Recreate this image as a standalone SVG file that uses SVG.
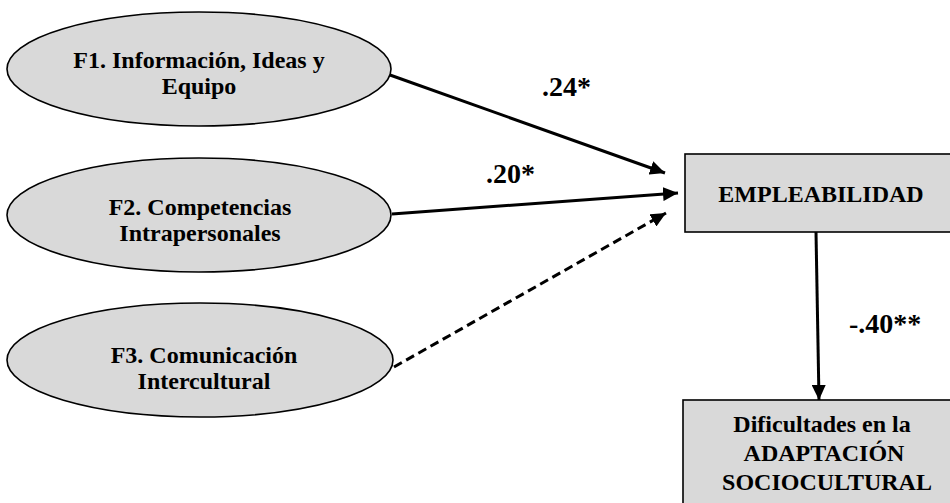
<svg xmlns="http://www.w3.org/2000/svg" width="950" height="503" viewBox="0 0 950 503">
<style>
.node{fill:#d9d9d9;stroke:#000;stroke-width:1.6}
.t{font-family:"Liberation Serif","Times New Roman",serif;font-weight:bold;font-size:24px;fill:#000;text-anchor:middle}
.lbl{font-family:"Liberation Serif","Times New Roman",serif;font-weight:bold;font-size:28px;fill:#000}
.c{stroke:#000;stroke-width:3;fill:none}
.dash{stroke-dasharray:9 5}
</style>
<defs>
<marker id="ah" markerUnits="userSpaceOnUse" markerWidth="16" markerHeight="14" refX="15" refY="7" orient="auto">
<path d="M0,0 L15,7 L0,14 Z" fill="#000"/>
</marker>
</defs>
<rect width="950" height="503" fill="#fff"/>
<g id="connectors">
<line class="c" x1="390" y1="75" x2="665" y2="173" marker-end="url(#ah)"/>
<line class="c" x1="392" y1="214" x2="678" y2="193" marker-end="url(#ah)"/>
<line class="c dash" x1="394" y1="367" x2="666" y2="213" marker-end="url(#ah)"/>
<line class="c" x1="816" y1="232" x2="819" y2="400" marker-end="url(#ah)"/>
<text class="lbl" x="542" y="96">.24*</text>
<text class="lbl" x="486" y="183">.20*</text>
<text class="lbl" x="849" y="333">-.40**</text>
</g>
<g id="f1">
<ellipse class="node" cx="199" cy="69" rx="192" ry="57"/>
<text class="t" x="199" y="68">F1. Información, Ideas y</text>
<text class="t" x="199" y="94">Equipo</text>
</g>
<g id="f2">
<ellipse class="node" cx="199" cy="215" rx="192" ry="57"/>
<text class="t" x="200" y="215">F2. Competencias</text>
<text class="t" x="200" y="241">Intrapersonales</text>
</g>
<g id="f3">
<ellipse class="node" cx="200" cy="360" rx="193" ry="57"/>
<text class="t" x="204" y="363">F3. Comunicación</text>
<text class="t" x="204" y="389">Intercultural</text>
</g>
<g id="empleabilidad">
<rect class="node" x="685" y="154" width="280" height="78"/>
<text class="t" x="821" y="202">EMPLEABILIDAD</text>
</g>
<g id="dificultades">
<rect class="node" x="683" y="400" width="282" height="120"/>
<text class="t" x="822" y="432">Dificultades en la</text>
<text class="t" x="824" y="461">ADAPTACIÓN</text>
<text class="t" x="827" y="490">SOCIOCULTURAL</text>
</g>
</svg>
